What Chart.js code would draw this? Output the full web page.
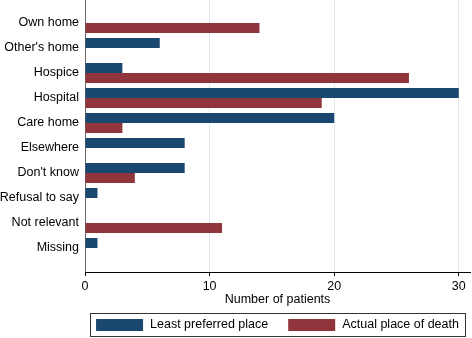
<!DOCTYPE html>
<html lang="en">
<head>
  <meta charset="UTF-8">
  <title>Least preferred vs actual place of death</title>
  <script src="https://cdn.jsdelivr.net/npm/chart.js"></script>
  <style>
    body { margin: 0; background: #ffffff; }
    .chart-container { width: 472px; height: 338px; position: relative; }
  </style>
</head>
<body>
  <div class="chart-container"><canvas id="placeChart"></canvas></div>

  <script>
    const places = ["Own home", "Other's home", "Hospice", "Hospital", "Care home", "Elsewhere", "Don't know", "Refusal to say", "Not relevant", "Missing"];
    const leastPreferred = [0, 6, 3, 30, 20, 8, 8, 1, 0, 1];
    const actualDeath = [14, 0, 26, 19, 3, 0, 4, 0, 11, 0];
    const xTicks = [0, 10, 20, 30];
    const seriesNames = ["Least preferred place", "Actual place of death"];

    Chart.defaults.font.family = '"Liberation Sans", Arial, sans-serif';
    Chart.defaults.font.size = 12.5;
    Chart.defaults.color = "#000";

    // boxed legend under the plot area, drawn by hand
    const boxLegend = {
      id: "boxLegend",
      afterDraw(chart) {
        const { ctx, chartArea } = chart;
        const sw = 47, sh = 12, gapText = 7, gapItem = 20, pad = 6;
        ctx.save();
        ctx.font = '12.5px "Liberation Sans", Arial, sans-serif';
        const items = chart.data.datasets.map(d => ({ label: d.label, color: d.backgroundColor, w: ctx.measureText(d.label).width }));
        const total = items.reduce((s, it) => s + sw + gapText + it.w, 0) + gapItem * (items.length - 1);
        let x = (chartArea.left + chartArea.right) / 2 - total / 2;
        const top = 313;
        ctx.strokeStyle = "#333";
        ctx.lineWidth = 1;
        ctx.strokeRect(Math.round(x - pad) + 0.5, top + 0.5, Math.round(total + 2 * pad), 23);
        ctx.textBaseline = "middle";
        items.forEach(it => {
          ctx.fillStyle = it.color;
          ctx.fillRect(x, top + 6, sw, sh);
          ctx.fillStyle = "#000";
          ctx.fillText(it.label, x + sw + gapText, top + 12);
          x += sw + gapText + it.w + gapItem;
        });
        ctx.restore();
      }
    };

    new Chart(document.getElementById("placeChart"), {
      type: "bar",
      data: {
        datasets: [
          { label: seriesNames[0], data: leastPreferred.map((v, i) => ({ x: v, y: i })), backgroundColor: "#1a476f" },
          { label: seriesNames[1], data: actualDeath.map((v, i) => ({ x: v, y: i })), backgroundColor: "#90353b" }
        ]
      },
      options: {
        indexAxis: "y",
        responsive: true,
        maintainAspectRatio: false,
        animation: false,
        categoryPercentage: 0.8,
        barPercentage: 1,
        layout: { padding: { top: 0, right: 2, bottom: 30, left: 0 } },
        plugins: { legend: { display: false }, tooltip: { enabled: false } },
        scales: {
          y: {
            type: "linear",
            reverse: true,
            offset: false,
            min: -0.92,
            max: 9.96,
            afterBuildTicks: s => { s.ticks = places.map((p, i) => ({ value: i })); },
            afterFit: s => { s.width = 85; s.paddingTop = 0; s.paddingBottom = 0; },
            ticks: { padding: 6, callback: v => places[v] },
            grid: { display: false, drawTicks: false, offset: false },
            border: { display: true, color: "#666" }
          },
          x: {
            min: 0,
            max: 30.9,
            afterBuildTicks: s => { s.ticks = xTicks.map(v => ({ value: v })); },
            afterFit: s => { s.height = 36; },
            ticks: { padding: 3 },
            grid: {
              color: c => c.tick && c.tick.value === 0 ? "rgba(0,0,0,0)" : "#dfe9ef",
              tickColor: "#000",
              tickLength: 4
            },
            border: { display: true, color: "#000" },
            title: { display: true, text: "Number of patients", padding: { top: 0, bottom: 1 } }
          }
        }
      },
      plugins: [boxLegend]
    });
  </script>
</body>
</html>
